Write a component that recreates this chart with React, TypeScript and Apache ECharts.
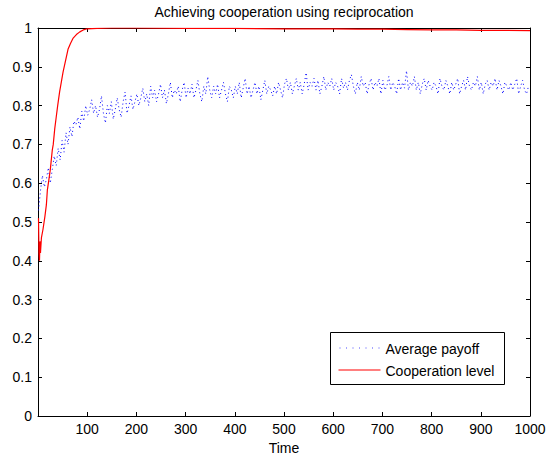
import React, { useEffect, useRef } from "react";
import * as echarts from "echarts";

// Average payoff sampled every 4 time steps starting at t = 1
const payoffStart = 1;
const payoffStep = 4;
const payoffValues: number[] = [
  0.53, 0.58, 0.62, 0.59, 0.61, 0.64, 0.60, 0.635, 0.67, 0.645,
  0.69, 0.66, 0.71, 0.68, 0.73, 0.70, 0.745, 0.72, 0.76, 0.75,
  0.77, 0.74, 0.785, 0.76, 0.80, 0.775, 0.79, 0.815, 0.78, 0.80,
  0.77, 0.79, 0.825, 0.78, 0.755, 0.80, 0.78, 0.81, 0.765, 0.79,
  0.82, 0.79, 0.77, 0.81, 0.835, 0.78, 0.80, 0.825, 0.79, 0.81,
  0.83, 0.80, 0.82, 0.845, 0.81, 0.83, 0.80, 0.85, 0.82, 0.84,
  0.81, 0.83, 0.855, 0.82, 0.84, 0.805, 0.83, 0.86, 0.82, 0.84,
  0.83, 0.85, 0.81, 0.84, 0.86, 0.82, 0.845, 0.83, 0.855, 0.82,
  0.84, 0.865, 0.83, 0.81, 0.85, 0.83, 0.875, 0.84, 0.82, 0.85,
  0.83, 0.855, 0.82, 0.84, 0.86, 0.83, 0.81, 0.85, 0.84, 0.82,
  0.85, 0.83, 0.86, 0.82, 0.845, 0.87, 0.83, 0.85, 0.82, 0.84,
  0.86, 0.83, 0.85, 0.815, 0.84, 0.865, 0.83, 0.85, 0.84, 0.825,
  0.85, 0.83, 0.86, 0.84, 0.82, 0.855, 0.87, 0.84, 0.86, 0.83,
  0.85, 0.87, 0.84, 0.86, 0.83, 0.855, 0.885, 0.84, 0.86, 0.85,
  0.87, 0.84, 0.865, 0.83, 0.85, 0.875, 0.84, 0.86, 0.85, 0.87,
  0.84, 0.86, 0.85, 0.83, 0.87, 0.845, 0.86, 0.84, 0.865, 0.88,
  0.85, 0.83, 0.86, 0.84, 0.875, 0.85, 0.86, 0.83, 0.855, 0.87,
  0.84, 0.86, 0.85, 0.87, 0.83, 0.865, 0.84, 0.85, 0.875, 0.84,
  0.86, 0.85, 0.83, 0.87, 0.84, 0.86, 0.845, 0.89, 0.84, 0.86,
  0.85, 0.875, 0.84, 0.86, 0.83, 0.855, 0.87, 0.84, 0.865, 0.85,
  0.84, 0.86, 0.85, 0.83, 0.87, 0.85, 0.84, 0.865, 0.85, 0.83,
  0.86, 0.84, 0.855, 0.87, 0.83, 0.85, 0.865, 0.84, 0.875, 0.85,
  0.84, 0.86, 0.85, 0.875, 0.84, 0.86, 0.83, 0.855, 0.865, 0.84,
  0.86, 0.85, 0.87, 0.84, 0.865, 0.85, 0.83, 0.86, 0.85, 0.84,
  0.86, 0.84, 0.855, 0.87, 0.83, 0.85, 0.865, 0.84, 0.83, 0.85,
];

// Cooperation level
const coopTime: number[] = [
  1, 2, 3, 4, 5, 7, 10, 14, 17, 19, 22, 25, 27, 29, 31, 34, 37, 40, 44,
  48, 51, 55, 61, 66, 71, 78, 85, 92, 100, 120, 150, 200, 300, 400, 500, 600,
  650, 700, 750, 800, 850, 900, 950, 1000,
];
const coopValues: number[] = [
  0.51, 0.42, 0.40, 0.45, 0.42, 0.46, 0.48, 0.514, 0.544, 0.582, 0.608, 0.635,
  0.66, 0.685, 0.70, 0.74, 0.77, 0.80, 0.836, 0.865, 0.887, 0.91, 0.945,
  0.96, 0.973, 0.983, 0.99, 0.995, 0.998, 0.999, 1.0, 1.0, 0.999, 0.999,
  0.998, 0.998, 0.997, 0.997, 0.996, 0.995, 0.995, 0.994, 0.994, 0.993,
];

const titleText = "Achieving cooperation using reciprocation";
const xName = "Time";
const seriesNames = ["Average payoff", "Cooperation level"];

const FONT = "'Liberation Sans', Arial, Helvetica, sans-serif";
const BLUE = "#0000ff";
const RED = "#ff0000";
const DOT: number[] = [1, 3];

export default function App() {
  const ref = useRef<HTMLDivElement>(null);
  useEffect(() => {
    if (!ref.current) return;
    const chart = echarts.init(ref.current, undefined, { renderer: "svg" });
    const payoffData = payoffValues.map((v, i) => [payoffStart + i * payoffStep, v]);
    const coopData = coopValues.map((v, i) => [coopTime[i], v]);
    const axisLine = { show: true, onZero: false, lineStyle: { color: "#000", width: 1 } };
    const axisTick = { show: true, inside: true, length: 4, lineStyle: { color: "#000" } };
    const lgX = 330.5;
    const lgY = 332.5;
    const legendDots = [0, 1, 2, 3, 4, 5, 6].map((k) => ({
      type: "rect",
      shape: { x: lgX + 9 + k * 6.5, y: lgY + 15, width: 1, height: 1 },
      style: { fill: BLUE, opacity: 0.7 },
    }));
    chart.setOption({
      animation: false,
      backgroundColor: "#fff",
      textStyle: { fontFamily: FONT },
      title: {
        text: titleText,
        left: 284,
        textAlign: "center",
        top: 5,
        padding: 0,
        textStyle: { fontSize: 14, fontWeight: "normal", color: "#000", fontFamily: FONT },
      },
      grid: { left: 38, right: 29, top: 28, bottom: 39, containLabel: false, outerBoundsMode: "none" },
      graphic: [
        {
          type: "group",
          z: 100,
          children: [
            {
              type: "rect",
              shape: { x: lgX, y: lgY, width: 174, height: 52 },
              style: { fill: "#fff", stroke: "#000", lineWidth: 1 },
            },
            ...legendDots,
            {
              type: "line",
              shape: { x1: lgX + 8, y1: lgY + 37.5, x2: lgX + 50, y2: lgY + 37.5 },
              style: { stroke: RED, lineWidth: 1.2 },
            },
            {
              type: "text",
              x: lgX + 55,
              y: lgY + 16,
              style: {
                text: seriesNames[0],
                fontSize: 14,
                fontFamily: FONT,
                fill: "#000",
                verticalAlign: "middle",
                align: "left",
              },
            },
            {
              type: "text",
              x: lgX + 55,
              y: lgY + 38,
              style: {
                text: seriesNames[1],
                fontSize: 14,
                fontFamily: FONT,
                fill: "#000",
                verticalAlign: "middle",
                align: "left",
              },
            },
          ],
        },
      ],
      xAxis: [
        {
          type: "value",
          min: 0,
          max: 1000,
          interval: 100,
          position: "bottom",
          name: xName,
          nameLocation: "middle",
          nameGap: 22,
          nameTextStyle: { fontSize: 14, color: "#000", fontFamily: FONT },
          axisLine,
          axisTick,
          splitLine: { show: false },
          axisLabel: {
            fontSize: 14,
            color: "#000",
            margin: 6,
            fontFamily: FONT,
            formatter: (v: number) => (v === 0 ? "" : String(v)),
          },
        },
        {
          type: "value",
          min: 0,
          max: 1000,
          interval: 100,
          position: "top",
          axisLine,
          axisTick,
          splitLine: { show: false },
          axisLabel: { show: false },
        },
      ],
      yAxis: [
        {
          type: "value",
          min: 0,
          max: 1,
          interval: 0.1,
          position: "left",
          axisLine,
          axisTick,
          splitLine: { show: false },
          axisLabel: { fontSize: 14, color: "#000", margin: 6, fontFamily: FONT },
        },
        {
          type: "value",
          min: 0,
          max: 1,
          interval: 0.1,
          position: "right",
          axisLine,
          axisTick,
          splitLine: { show: false },
          axisLabel: { show: false },
        },
      ],
      series: [
        {
          name: seriesNames[0],
          type: "line",
          data: payoffData,
          showSymbol: false,
          symbol: "none",
          color: BLUE,
          lineStyle: { color: BLUE, width: 1, type: DOT },
          xAxisIndex: 0,
          yAxisIndex: 0,
        },
        {
          name: seriesNames[1],
          type: "line",
          data: coopData,
          showSymbol: false,
          symbol: "none",
          color: RED,
          lineStyle: { color: RED, width: 1.2 },
          xAxisIndex: 0,
          yAxisIndex: 0,
        },
      ],
    });
    return () => chart.dispose();
  }, []);
  return <div ref={ref} style={{ width: 559, height: 455, position: "absolute", left: 0, top: 0 }} />;
}
